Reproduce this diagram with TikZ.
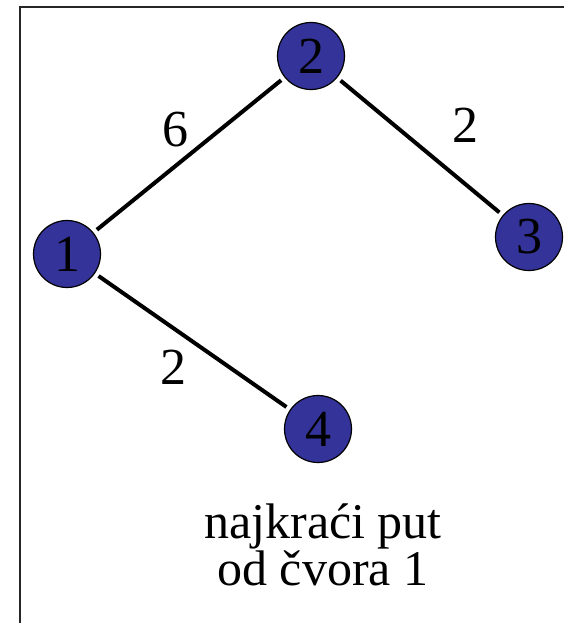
\documentclass[tikz,border=0pt]{standalone}
\usepackage{fontspec}
\newfontfamily\timesfont{Liberation Serif}
\definecolor{nodeblue}{RGB}{51,51,153}
\tikzset{
  vertex/.style  = {shape=circle, draw, line width=1.2pt, fill=nodeblue,
                    minimum size=67pt, inner sep=0pt, outer sep=5pt,
                    font=\timesfont\fontsize{52}{52}\selectfont},
  link/.style    = {line width=4pt},
  weight/.style  = {midway, inner sep=0pt, font=\timesfont\fontsize{52}{52}\selectfont},
  caption/.style = {align=center, font=\timesfont\fontsize{50}{45}\selectfont},
  frame/.style   = {line width=2pt, black!85}
}

\begin{document}
\begin{tikzpicture}[x=1pt,y=-1pt]
  \useasboundingbox (0,0) rectangle (564,623);
  \draw[frame] (570,7) -- (20,7) -- (20,630);

  \node[vertex] (v1) at (67,254) {1};
  \node[vertex] (v2) at (311,56) {2};
  \node[vertex] (v3) at (529,237) {3};
  \node[vertex] (v4) at (318,429) {4};

  \draw[link] (v1) -- node[weight, xshift=-14pt, yshift=25.5pt] (w12) {6} (v2);
  \draw[link] (v2) -- node[weight, xshift=45pt, yshift=21pt] (w23) {2} (v3);
  \draw[link] (v1) -- node[weight, xshift=-19.5pt, yshift=-25.5pt] (w14) {2} (v4);

  \node[caption] (cap) at (323,545) {najkraći put\\od čvora 1};
\end{tikzpicture}
\end{document}
